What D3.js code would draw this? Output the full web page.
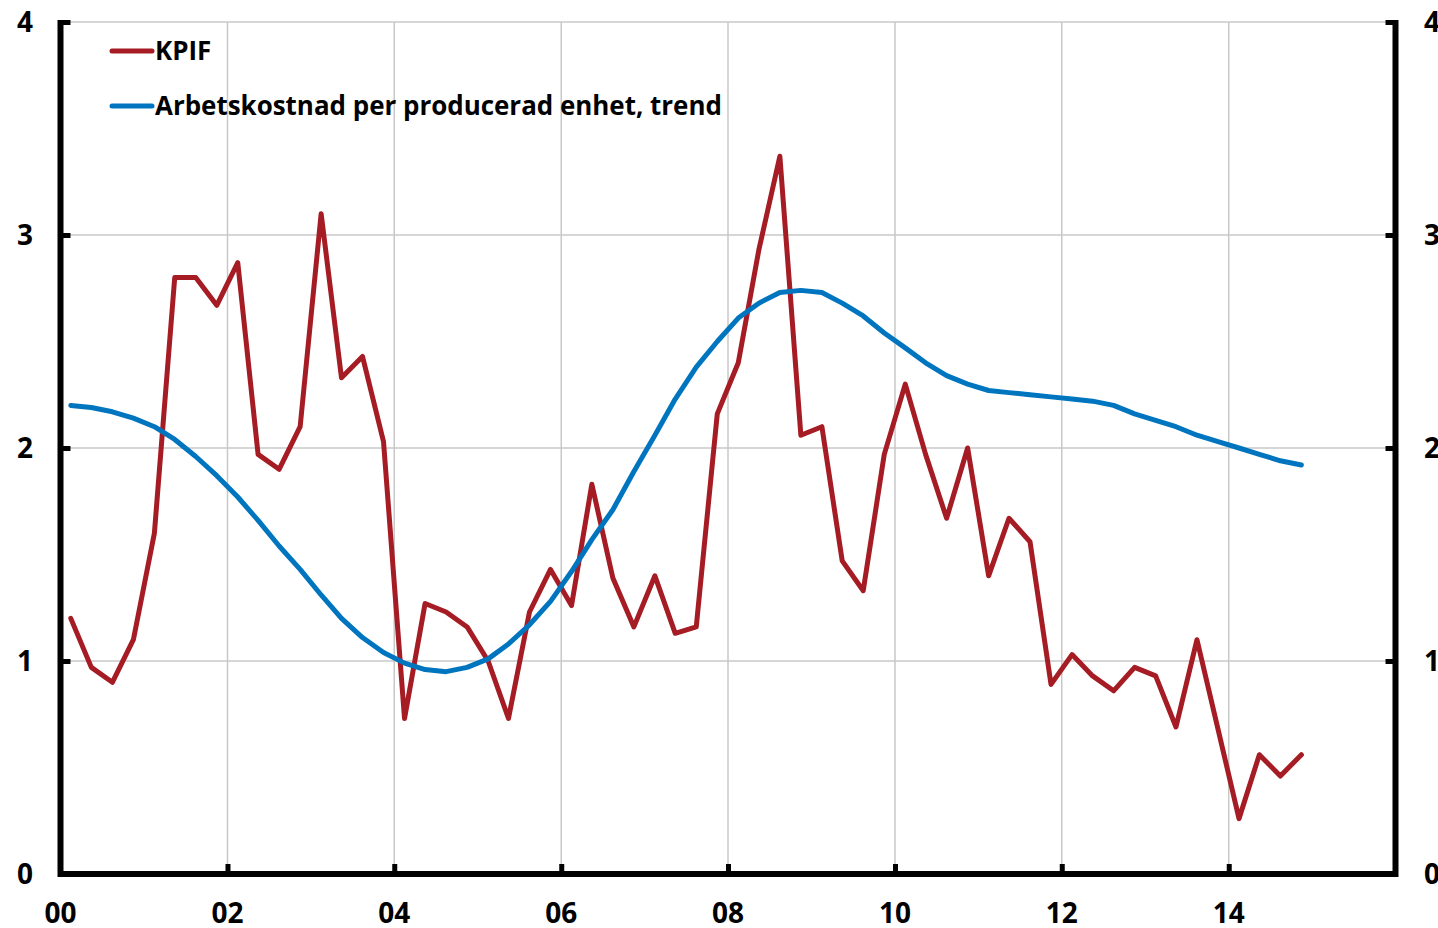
<!DOCTYPE html>
<html>
<head>
<meta charset="utf-8">
<script src="https://cdn.jsdelivr.net/npm/d3@7"></script>
<style>
  html, body { margin: 0; padding: 0; background: #fff; overflow: hidden; }
  svg { display: block; }
  text { font-family: "Open Sans", "Noto Sans", sans-serif; font-weight: bold; fill: #000; }
</style>
</head>
<body>
<svg id="chart" width="1438" height="928"></svg>
<script>
// Quarterly series, 2000Q1 - 2014Q4 (annual percentage change)
const START_YEAR = 2000;
const kpif = [
  1.20, 0.97, 0.90, 1.10,
  1.60, 2.80, 2.80, 2.67,
  2.87, 1.97, 1.90, 2.10,
  3.10, 2.33, 2.43, 2.03,
  0.73, 1.27, 1.23, 1.16,
  1.00, 0.73, 1.23, 1.43,
  1.26, 1.83, 1.39, 1.16,
  1.40, 1.13, 1.16, 2.16,
  2.40, 2.93, 3.37, 2.06,
  2.10, 1.47, 1.33, 1.97,
  2.30, 1.97, 1.67, 2.00,
  1.40, 1.67, 1.56, 0.89,
  1.03, 0.93, 0.86, 0.97,
  0.93, 0.69, 1.10, 0.68,
  0.26, 0.56, 0.46, 0.56
];
const ulc = [
  2.20, 2.19, 2.17, 2.14,
  2.10, 2.04, 1.96, 1.87,
  1.77, 1.66, 1.54, 1.43,
  1.31, 1.20, 1.11, 1.04,
  0.99, 0.96, 0.95, 0.97,
  1.01, 1.08, 1.17, 1.28,
  1.42, 1.57, 1.71, 1.89,
  2.06, 2.23, 2.38, 2.50,
  2.61, 2.68, 2.73, 2.74,
  2.73, 2.68, 2.62, 2.54,
  2.47, 2.40, 2.34, 2.30,
  2.27, 2.26, 2.25, 2.24,
  2.23, 2.22, 2.20, 2.16,
  2.13, 2.10, 2.06, 2.03,
  2.00, 1.97, 1.94, 1.92
];
const xTickYears = [2000, 2002, 2004, 2006, 2008, 2010, 2012, 2014, 2016];
const yTicks = [0, 1, 2, 3, 4];
const seriesNames = ["KPIF", "Arbetskostnad per producerad enhet, trend"];
const seriesColors = ["#a51c24", "#0075bf"];

const svg = d3.select("#chart");

// Plot frame (pixels)
const plotLeft = 60.5, plotRight = 1395.5, plotTop = 22, plotBottom = 874;

// each quarter is plotted at the middle of its middle month
const quarterDate = i => new Date(START_YEAR + Math.floor(i / 4), (i % 4) * 3 + 1, 15);

const x = d3.scaleTime()
    .domain([new Date(2000, 0, 1), new Date(2016, 0, 1)])
    .range([plotLeft, plotRight]);
const y = d3.scaleLinear().domain([0, 4]).range([plotBottom, plotTop]);

// Grid lines
const grid = svg.append("g").attr("stroke", "#c8c8c8").attr("stroke-width", 1.5);
grid.selectAll("line.h")
    .data(yTicks.filter(d => d > 0))
    .enter().append("line")
    .attr("x1", plotLeft).attr("x2", plotRight)
    .attr("y1", d => y(d)).attr("y2", d => y(d));
grid.selectAll("line.v")
    .data(xTickYears.slice(1, -1))
    .enter().append("line")
    .attr("x1", d => x(new Date(d, 0, 1))).attr("x2", d => x(new Date(d, 0, 1)))
    .attr("y1", plotTop).attr("y2", plotBottom);

// Axes (thick black frame on left, bottom, right, with inward ticks)
const axisG = svg.append("g");
const leftAxis = d3.axisRight(y).tickValues(yTicks.filter(d => d > 0)).tickSize(10).tickFormat("");
const rightAxis = d3.axisLeft(y).tickValues(yTicks.filter(d => d > 0)).tickSize(10).tickFormat("");
const bottomAxis = d3.axisTop(x)
    .tickValues(xTickYears.slice(1, -1).map(d => new Date(d, 0, 1)))
    .tickSize(10).tickFormat("");

[[leftAxis, `translate(${plotLeft},0)`], [rightAxis, `translate(${plotRight},0)`], [bottomAxis, `translate(0,${plotBottom})`]]
  .forEach(([ax, tr]) => {
    const g = axisG.append("g").attr("transform", tr).call(ax);
    g.select(".domain").remove();
    g.selectAll(".tick line").attr("stroke", "#000").attr("stroke-width", 5);
  });

axisG.append("path")
    .attr("d", `M${plotLeft},${plotTop - 2}V${plotBottom}H${plotRight}V${plotTop - 2}`)
    .attr("fill", "none")
    .attr("stroke", "#000")
    .attr("stroke-width", 6);

// Tick labels
svg.append("g").selectAll("text")
    .data(yTicks)
    .enter().append("text")
    .attr("x", 33).attr("y", d => y(d) + 10)
    .attr("text-anchor", "end")
    .attr("font-size", 28)
    .text(d => d);
svg.append("g").selectAll("text")
    .data(yTicks)
    .enter().append("text")
    .attr("x", 1424).attr("y", d => y(d) + 10)
    .attr("text-anchor", "start")
    .attr("font-size", 28)
    .text(d => d);
svg.append("g").selectAll("text")
    .data(xTickYears.slice(0, -1))
    .enter().append("text")
    .attr("x", d => x(new Date(d, 0, 1)))
    .attr("y", 923)
    .attr("text-anchor", "middle")
    .attr("font-size", 28)
    .text(d => String(d % 100).padStart(2, "0"));

// Lines
const line = d3.line()
    .x((d, i) => x(quarterDate(i)))
    .y(d => y(d));

[kpif, ulc].forEach((vals, k) => {
  svg.append("path")
      .datum(vals)
      .attr("fill", "none")
      .attr("stroke", seriesColors[k])
      .attr("stroke-width", 5)
      .attr("stroke-linejoin", "round")
      .attr("stroke-linecap", "round")
      .attr("d", line);
});

// Legend
const legend = svg.append("g").selectAll("g")
    .data(seriesNames)
    .enter().append("g")
    .attr("transform", (d, i) => `translate(112,${51 + i * 55})`);
legend.append("line")
    .attr("x1", 0).attr("x2", 40)
    .attr("stroke", (d, i) => seriesColors[i])
    .attr("stroke-width", 5)
    .attr("stroke-linecap", "round");
const legendText = legend.append("text")
    .attr("x", 43).attr("y", 9)
    .attr("font-size", 26)
    .text(d => d);

// fit the legend font so the long label spans as wide as in the original (~567px)
const longest = legendText.filter((d, i) => i === 1).node();
const fitted = 26 * 567 / longest.getComputedTextLength();
legendText.attr("font-size", Math.min(26, fitted));
</script>
</body>
</html>
